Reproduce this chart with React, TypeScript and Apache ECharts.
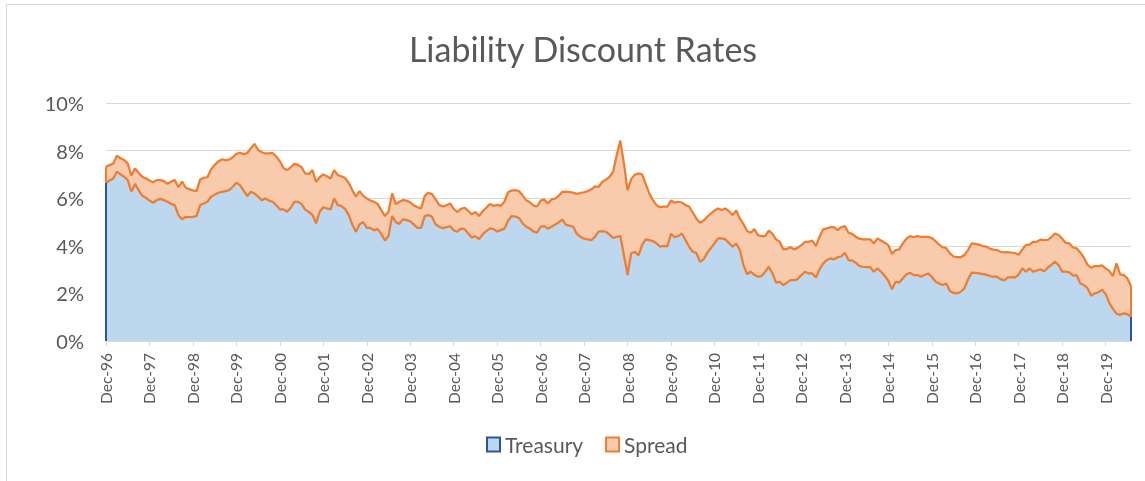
import React, { useEffect, useRef } from "react";
import * as echarts from "echarts";

// Monthly values (%), Dec-96 .. Jul-20
const treasury: number[] = [
  6.65, 6.74, 6.83, 7.11, 7.0, 6.9, 6.76, 6.27, 6.6, 6.34, 6.1, 6.02,
  5.9, 5.81, 5.92, 5.97, 5.92, 5.85, 5.76, 5.7, 5.29, 5.11, 5.22, 5.2,
  5.22, 5.25, 5.71, 5.78, 5.85, 6.06, 6.15, 6.23, 6.27, 6.3, 6.34, 6.48,
  6.65, 6.55, 6.32, 6.09, 6.27, 6.2, 6.06, 5.92, 5.99, 5.9, 5.85, 5.71,
  5.53, 5.53, 5.43, 5.6, 5.85, 5.85, 5.75, 5.52, 5.42, 5.3, 4.94, 5.43,
  5.62, 5.57, 5.53, 5.99, 5.71, 5.67, 5.55, 5.3, 4.9, 4.59, 4.9, 5.0,
  4.75, 4.75, 4.65, 4.7, 4.5, 4.22, 4.41, 5.25, 5.0, 4.92, 5.11, 5.08,
  5.03, 4.9, 4.75, 4.75, 5.25, 5.29, 5.22, 4.9, 4.8, 4.74, 4.78, 4.82,
  4.65, 4.59, 4.72, 4.7, 4.52, 4.35, 4.4, 4.28, 4.48, 4.62, 4.73, 4.7,
  4.6, 4.66, 4.72, 5.05, 5.25, 5.23, 5.17, 4.95, 4.8, 4.73, 4.6, 4.55,
  4.8, 4.83, 4.72, 4.8, 4.9, 4.98, 5.1, 4.88, 4.85, 4.8, 4.5, 4.38,
  4.3, 4.27, 4.24, 4.38, 4.6, 4.62, 4.59, 4.48, 4.33, 4.38, 4.41, 3.6,
  2.77, 3.68, 3.75, 3.6, 4.03, 4.27, 4.24, 4.2, 4.1, 3.96, 4.0, 3.98,
  4.5, 4.36, 4.41, 4.52, 4.24, 3.96, 3.75, 3.7, 3.33, 3.43, 3.71, 3.9,
  4.1, 4.31, 4.31, 4.27, 4.12, 3.96, 4.1, 3.82, 3.2, 2.8, 2.92, 2.78,
  2.7, 2.73, 2.91, 3.12, 2.84, 2.45, 2.49, 2.35, 2.45, 2.56, 2.56, 2.6,
  2.77, 2.91, 2.84, 2.84, 2.67, 3.01, 3.26, 3.4, 3.47, 3.43, 3.52, 3.55,
  3.71, 3.4, 3.38, 3.29, 3.15, 3.12, 3.1, 3.1, 2.91, 3.05, 2.91, 2.73,
  2.53, 2.17, 2.49, 2.45, 2.63, 2.8, 2.87, 2.77, 2.77, 2.7, 2.77, 2.84,
  2.7, 2.5, 2.42, 2.35, 2.42, 2.1, 2.02, 2.0, 2.07, 2.21, 2.59, 2.87,
  2.86, 2.84, 2.81, 2.79, 2.73, 2.7, 2.7, 2.6, 2.55, 2.67, 2.68, 2.67,
  2.8, 3.05, 2.91, 3.05, 2.91, 2.96, 3.01, 2.93, 3.08, 3.2, 3.33, 3.19,
  2.91, 2.91, 2.88, 2.75, 2.77, 2.42, 2.35, 2.22, 1.9, 2.0, 2.05, 2.15,
  1.98, 1.6, 1.35, 1.15, 1.1, 1.16, 1.13, 1.02,
];

// Total liability discount rate (Treasury + Spread), %
const totalRate: number[] = [
  7.32, 7.39, 7.46, 7.79, 7.68, 7.6, 7.46, 6.95, 7.25, 7.07, 6.9, 6.83,
  6.74, 6.67, 6.76, 6.76, 6.72, 6.6, 6.7, 6.76, 6.46, 6.7, 6.45, 6.38,
  6.33, 6.3, 6.79, 6.86, 6.88, 7.21, 7.4, 7.54, 7.63, 7.6, 7.62, 7.72,
  7.86, 7.91, 7.85, 7.9, 8.1, 8.28, 8.03, 7.93, 7.88, 7.88, 7.9, 7.75,
  7.55, 7.27, 7.18, 7.3, 7.44, 7.4, 7.3, 7.04, 7.02, 7.18, 6.69, 6.88,
  7.0, 6.92, 6.83, 7.18, 6.97, 6.92, 6.85, 6.65, 6.34, 6.06, 6.3, 6.1,
  5.99, 5.9, 5.85, 5.76, 5.5, 5.25, 5.43, 6.2, 5.75, 5.85, 5.92, 5.9,
  5.82, 5.7, 5.62, 5.57, 6.1, 6.23, 6.17, 5.95, 5.72, 5.65, 5.7, 5.78,
  5.55, 5.43, 5.55, 5.6, 5.47, 5.32, 5.42, 5.25, 5.45, 5.6, 5.76, 5.68,
  5.72, 5.68, 5.85, 6.25, 6.32, 6.34, 6.3, 6.12, 5.92, 5.83, 5.7, 5.65,
  5.9, 5.95, 5.78, 5.95, 5.98, 6.1, 6.27, 6.28, 6.26, 6.23, 6.18, 6.22,
  6.25, 6.3, 6.37, 6.5, 6.47, 6.68, 6.78, 6.9, 7.1, 7.8, 8.42, 7.46,
  6.34, 6.8, 6.99, 7.04, 7.0, 6.6, 6.2, 5.92, 5.71, 5.62, 5.65, 5.65,
  5.9, 5.81, 5.85, 5.82, 5.71, 5.65, 5.4, 5.15, 4.97, 5.06, 5.22, 5.35,
  5.48, 5.57, 5.5, 5.57, 5.45, 5.29, 5.48, 5.15, 4.92, 4.62, 4.55, 4.7,
  4.45, 4.41, 4.41, 4.64, 4.5, 4.27, 4.17, 3.85, 3.87, 3.94, 3.85, 3.92,
  4.03, 4.17, 4.17, 4.22, 3.99, 4.38, 4.69, 4.73, 4.78, 4.78, 4.66, 4.78,
  4.83, 4.55, 4.5, 4.38, 4.3, 4.27, 4.27, 4.27, 4.1, 4.31, 4.22, 4.13,
  4.03, 3.66, 3.82, 3.85, 4.1, 4.3, 4.41, 4.36, 4.41, 4.38, 4.38, 4.38,
  4.33, 4.2, 4.05, 3.94, 3.9, 3.68, 3.55, 3.52, 3.52, 3.61, 3.82, 4.1,
  4.08, 4.05, 3.99, 3.97, 3.88, 3.84, 3.82, 3.75, 3.72, 3.73, 3.71, 3.7,
  3.62, 3.85, 4.03, 4.05, 4.17, 4.17, 4.26, 4.24, 4.25, 4.36, 4.52, 4.45,
  4.3, 4.12, 4.1, 3.93, 3.89, 3.72, 3.5, 3.2, 3.08, 3.15, 3.15, 3.18,
  3.05, 2.95, 2.73, 3.26, 2.8, 2.77, 2.63, 2.31,
];

const monthNames = ["Jan", "Feb", "Mar", "Apr", "May", "Jun", "Jul", "Aug", "Sep", "Oct", "Nov", "Dec"];
const startYear = 1996;
const startMonth = 11; // December

const categories: string[] = treasury.map((_, i) => {
  const k = startMonth + i;
  const yr = (startYear + Math.floor(k / 12)) % 100;
  return `${monthNames[k % 12]}-${String(yr).padStart(2, "0")}`;
});

const spread: number[] = treasury.map((t, i) => Math.round((totalRate[i] - t) * 100) / 100);

const yTicks = { min: 0, max: 10, interval: 2 };

const FONT = "Lato, 'Open Sans', sans-serif";
const TEXT = "#595959";
const GRID = "#D9D9D9";
const BLUE_FILL = "#BDD7EE";
const BLUE_LINE = "#2F5597";
const ORANGE_FILL = "#F8CBAD";
const ORANGE_LINE = "#ED7D31";

export default function App() {
  const ref = useRef<HTMLDivElement>(null);
  useEffect(() => {
    if (!ref.current) return;
    const chart = echarts.init(ref.current, undefined, { renderer: "svg" });
    const first = categories[0];
    const last = categories[categories.length - 1];
    const n = treasury.length - 1;
    chart.setOption({
      animation: false,
      textStyle: { fontFamily: FONT },
      graphic: [
        {
          type: "rect",
          silent: true,
          z: -10,
          shape: { x: 6.5, y: 4.5, width: 1300, height: 700 },
          style: { fill: "none", stroke: GRID, lineWidth: 1 },
        },
        {
          type: "text",
          x: 583,
          y: 48,
          silent: true,
          style: {
            text: "Liability Discount Rates",
            fontSize: 34,
            fontFamily: FONT,
            fill: TEXT,
            align: "center",
            verticalAlign: "middle",
          },
        },
      ],
      legend: {
        left: 481,
        top: 429,
        itemWidth: 13,
        itemHeight: 14,
        itemGap: 22,
        selectedMode: false,
        textStyle: { fontSize: 21, color: TEXT, fontFamily: FONT },
        data: [
          { name: "Treasury", icon: "rect", itemStyle: { color: BLUE_FILL, borderColor: BLUE_LINE, borderWidth: 2 } },
          { name: "Spread", icon: "rect", itemStyle: { color: ORANGE_FILL, borderColor: ORANGE_LINE, borderWidth: 2 } },
        ],
      },
      grid: { left: 106, right: 14, top: 103, bottom: 140, containLabel: false, outerBoundsMode: "none" },
      xAxis: {
        type: "category",
        data: categories,
        boundaryGap: false,
        axisLine: { lineStyle: { color: GRID, width: 1 } },
        axisTick: { show: true, interval: 11, length: 5, lineStyle: { color: GRID } },
        axisLabel: {
          interval: 11,
          rotate: 90,
          fontSize: 15.5,
          color: TEXT,
          fontFamily: FONT,
          margin: 12,
        },
      },
      yAxis: {
        type: "value",
        min: yTicks.min,
        max: yTicks.max,
        interval: yTicks.interval,
        axisLine: { show: false },
        axisTick: { show: false },
        axisLabel: { formatter: "{value}%", fontSize: 20, color: TEXT, fontFamily: FONT, margin: 22 },
        splitLine: { lineStyle: { color: GRID, width: 1 } },
      },
      series: [
        {
          name: "Treasury",
          type: "line",
          stack: "rate",
          data: treasury,
          symbol: "none",
          z: 3,
          itemStyle: { color: BLUE_FILL },
          lineStyle: { color: ORANGE_LINE, width: 2.25 },
          areaStyle: { color: BLUE_FILL, opacity: 1 },
          markLine: {
            silent: true,
            symbol: ["none", "none"],
            label: { show: false },
            animation: false,
            data: [
              [{ coord: [first, 0], lineStyle: { color: BLUE_LINE, width: 2, type: "solid" } }, { coord: [first, treasury[0]] }],
              [{ coord: [last, 0], lineStyle: { color: BLUE_LINE, width: 2, type: "solid" } }, { coord: [last, treasury[n]] }],
              [{ coord: [first, treasury[0]], lineStyle: { color: ORANGE_LINE, width: 2, type: "solid" } }, { coord: [first, totalRate[0]] }],
              [{ coord: [last, treasury[n]], lineStyle: { color: ORANGE_LINE, width: 2, type: "solid" } }, { coord: [last, totalRate[n]] }],
            ],
          },
        },
        {
          name: "Spread",
          type: "line",
          stack: "rate",
          data: spread,
          symbol: "none",
          z: 2,
          itemStyle: { color: ORANGE_FILL },
          lineStyle: { color: ORANGE_LINE, width: 2.25 },
          areaStyle: { color: ORANGE_FILL, opacity: 1 },
        },
      ],
    });
    return () => chart.dispose();
  }, []);
  return <div ref={ref} style={{ position: "fixed", left: 0, top: 0, width: 1145, height: 481 }} />;
}
